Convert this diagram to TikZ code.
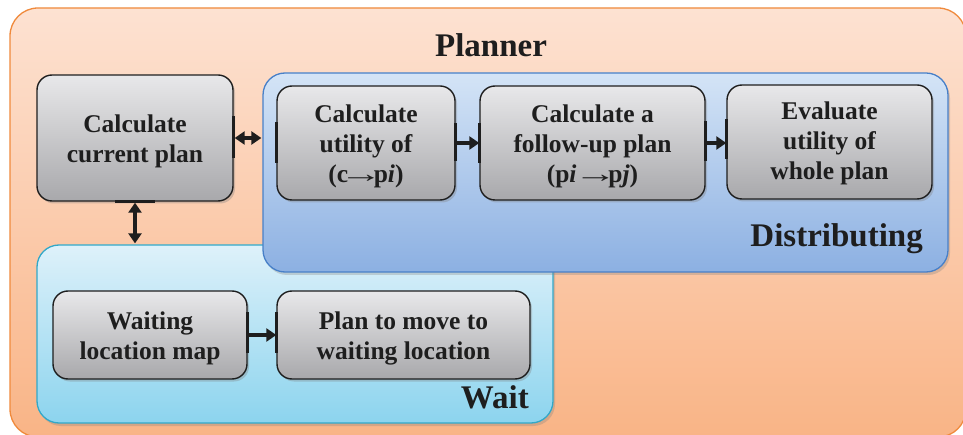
\documentclass[tikz,border=0pt]{standalone}
\usepackage{fontspec}
\usepackage{graphicx}
\setmainfont{Liberation Serif}
\usetikzlibrary{arrows.meta,shadows}
\definecolor{orTop}{RGB}{253,226,210}
\definecolor{orBot}{RGB}{249,180,134}
\definecolor{orLine}{RGB}{240,138,60}
\definecolor{blTop}{RGB}{212,228,246}
\definecolor{blBot}{RGB}{140,176,226}
\definecolor{blLine}{RGB}{72,128,200}
\definecolor{cyTop}{RGB}{222,241,250}
\definecolor{cyBot}{RGB}{140,212,238}
\definecolor{cyLine}{RGB}{50,168,200}
\definecolor{gyTop}{RGB}{232,232,234}
\definecolor{gyBot}{RGB}{168,168,171}
\definecolor{ink}{RGB}{30,30,30}
\newcommand\rarr{\makebox[1em]{\scalebox{1.7}[1]{→}}}
\newcommand\lines[2][4pt]{\raisebox{-#1}[\height][\depth]{\begin{tabular}{@{}c@{}}#2\end{tabular}}}
\tikzset{
  x=1pt, y=-1pt,
  container/.style={rounded corners=22pt, line width=1.3pt, inner sep=0pt},
  procbox/.style={rounded corners=15pt, draw=ink, line width=1.4pt,
    top color=gyTop, bottom color=gyBot, inner sep=0pt,
    font=\fontsize{25.5}{30}\selectfont\bfseries, text=ink,
    drop shadow={opacity=0.35, shadow xshift=2pt, shadow yshift=-2.5pt}},
  biglabel/.style={font=\fontsize{33}{38}\selectfont\bfseries, text=ink, inner sep=0pt},
  conn/.style={draw=ink, line width=4pt, -{Triangle[length=10pt,width=13pt]}},
  dconn/.style={draw=ink, line width=4pt, {Triangle[length=10pt,width=13pt]}-{Triangle[length=10pt,width=13pt]}},
  bar/.style={draw=ink, line width=3.2pt},
}
\begin{document}
\begin{tikzpicture}
\clip (0,0) rectangle (963,435);
\fill[white] (0,0) rectangle (963,435);
% Planner outer
\node[container, draw=orLine, top color=orTop, bottom color=orBot, rounded corners=28pt,
  minimum width=956pt, minimum height=429pt] (planner) at (488,222.5) {};
\node[biglabel, anchor=base] (plannerlbl) at (491,57) {Planner};
% Wait container
\node[container, draw=cyLine, top color=cyTop, bottom color=cyBot,
  drop shadow={opacity=0.3, shadow xshift=2pt, shadow yshift=-3pt},
  minimum width=516pt, minimum height=178pt] (wait) at (295,334) {};
\node[biglabel, anchor=base east] (waitlbl) at (529,408) {Wait};
% Distributing container
\node[container, draw=blLine, top color=blTop, bottom color=blBot,
  drop shadow={opacity=0.3, shadow xshift=2pt, shadow yshift=-3pt},
  minimum width=685pt, minimum height=199pt] (dist) at (605.5,172.5) {};
\node[biglabel, anchor=base east] (distlbl) at (923,247) {Distributing};
% Process boxes
\node[procbox, minimum width=196pt, minimum height=126pt] (cur) at (135,138) {\lines{Calculate\\current plan}};
\node[procbox, minimum width=178pt, minimum height=114pt] (util) at (366,143) {\lines{Calculate\\utility of\\(c\rarr p\textit{i})}};
\node[procbox, minimum width=225pt, minimum height=114pt] (follow) at (592.5,143) {\lines{Calculate a\\follow-up plan\\(p\textit{i} \rarr p\textit{j})}};
\node[procbox, minimum width=205pt, minimum height=114pt] (eval) at (829.5,142) {\lines[2pt]{Evaluate\\utility of\\whole plan}};
\node[procbox, minimum width=194pt, minimum height=88pt] (wmap) at (150,335) {\lines[3pt]{Waiting\\location map}};
\node[procbox, minimum width=253pt, minimum height=88pt] (move) at (403.5,335) {\lines[3pt]{Plan to move to\\waiting location}};
% connection bars
\draw[bar] ([yshift=-20pt]cur.east) -- ([yshift=22pt]cur.east);
\draw[bar] ([yshift=-20pt]util.west) -- ([yshift=21pt]util.west);
\draw[bar] ([yshift=-18pt]util.east) -- ([yshift=20pt]util.east);
\draw[bar] ([yshift=-20pt]follow.west) -- ([yshift=20pt]follow.west);
\draw[bar] ([yshift=-18pt]follow.east) -- ([yshift=22pt]follow.east);
\draw[bar] ([yshift=-17pt]eval.east -| eval.west) -- ([yshift=23pt]eval.east -| eval.west);
\draw[bar] ([xshift=-20pt]cur.south) -- ([xshift=20pt]cur.south);
\draw[bar] ([yshift=-18pt]wmap.east) -- ([yshift=23pt]wmap.east);
\draw[bar] ([yshift=-18pt]move.west) -- ([yshift=23pt]move.west);
% connectors
\draw[dconn] ([xshift=1pt]cur.east) -- ([xshift=-1pt]cur.east -| dist.west);
\draw[dconn] ([yshift=-1pt]cur.south) -- ([yshift=1pt]cur.south |- wait.north);
\draw[conn] (util.east) -- (follow.west);
\draw[conn] (follow.east) -- (follow.east -| eval.west);
\draw[conn] (wmap.east) -- (move.west);
\end{tikzpicture}
\end{document}
